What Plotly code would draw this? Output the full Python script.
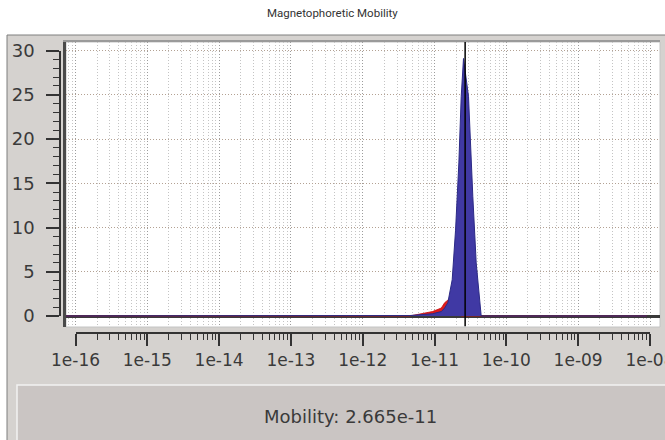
import plotly.graph_objects as go

# ---------------- data ----------------
mobility = [7.4e-17, 1.0e-12, 4.49e-12, 9.3e-12, 1.24e-11, 1.38e-11, 1.53e-11, 1.76e-11,
            1.96e-11, 2.18e-11, 2.35e-11, 2.53e-11, 2.97e-11, 3.41e-11, 3.80e-11, 4.46e-11, 9.0e-9]
blue_vals = [0, 0, 0.05, 0.25, 0.5, 0.9, 1.5, 4.1, 9.7, 17.3, 24.8, 29.1, 24.8, 13.5, 6.0, 0, 0]
red_vals = [0, 0, 0.0, 0.5, 0.9, 1.5, 1.8, 2.2, 2.0, 1.0, 0.0, 0, 0, 0, 0, 0, 0]
mean_mobility = 2.665e-11
x_tick_vals = [1e-16, 1e-15, 1e-14, 1e-13, 1e-12, 1e-11, 1e-10, 1e-09, 1e-08]
x_tick_text = ["1e-16", "1e-15", "1e-14", "1e-13", "1e-12", "1e-11", "1e-10", "1e-09", "1e-08"]
y_tick_vals = [0, 5, 10, 15, 20, 25, 30]
title_text = "Magnetophoretic Mobility"
readout_text = "Mobility: 2.665e-11"

# ---------------- geometry helpers ----------------
W, H = 665, 440
def fx(px):
    return px / W
def fy(py):
    return 1 - py / H

PX_DEC = (650 - 75.5) / 8.0
x_range = [-16 - (75.5 - 66) / PX_DEC, -16 + (660 - 75.5) / PX_DEC]
PX_UNIT = (316 - 50.5) / 30.0
y_range = [-(326.5 - 316) / PX_UNIT, 30 + (50.5 - 42) / PX_UNIT]

fig = go.Figure()

fig.add_trace(go.Scatter(x=mobility, y=red_vals, mode="lines", fill="tozeroy",
                         line=dict(color="#c81010", width=0.8), fillcolor="#e01a1a",
                         hoverinfo="skip", showlegend=False))
fig.add_trace(go.Scatter(x=mobility, y=blue_vals, mode="lines", fill="tozeroy",
                         line=dict(color="#2c2a86", width=1), fillcolor="#4039a4",
                         hoverinfo="skip", showlegend=False))
fig.add_trace(go.Scatter(x=[mean_mobility, mean_mobility], y=[y_range[0], y_range[1]], mode="lines",
                         line=dict(color="#000000", width=1.5), hoverinfo="skip", showlegend=False))
# dummy trace to create ruler axes
fig.add_trace(go.Scatter(x=[], y=[], xaxis="x2", yaxis="y2", showlegend=False))

grid_major = "#9c9c9c"
grid_minor = "#c4c4c4"

fig.update_layout(
    width=W, height=H,
    margin=dict(l=0, r=0, t=0, b=0, pad=0, autoexpand=False),
    paper_bgcolor="#ffffff",
    plot_bgcolor="rgba(0,0,0,0)",
    showlegend=False,
    xaxis=dict(type="log", domain=[fx(66), fx(660)], range=x_range, automargin=False,
               showticklabels=False, ticks="", side="top",
               showline=True, linecolor="#9a9a9a", linewidth=1.5,
               showgrid=True, gridcolor=grid_major, griddash="1px,2px", gridwidth=1,
               dtick=1,
               minor=dict(showgrid=True, gridcolor=grid_minor, griddash="1px,2px", dtick="D1", ticks=""),
               zeroline=False, fixedrange=True),
    yaxis=dict(domain=[fy(326.5), fy(42)], range=y_range, automargin=False,
               showticklabels=False, ticks="",
               showline=True, linecolor="#4a4a4a", linewidth=2.5,
               showgrid=True, gridcolor="#b3a193", griddash="1px,2px", gridwidth=1,
               dtick=5,
               zeroline=True, zerolinecolor="#3a3a3a", zerolinewidth=2.5, fixedrange=True),
    xaxis2=dict(type="log", domain=[fx(75.5), fx(650)], range=[-16, -7.999], automargin=False,
                anchor="free", position=fy(333), side="bottom",
                tickvals=x_tick_vals, ticktext=x_tick_text, ticklabeloverflow="allow",
                ticks="outside", ticklen=12, tickwidth=1.5, tickcolor="#333333",
                minor=dict(dtick="D1", ticks="outside", ticklen=6, tickwidth=1.2, tickcolor="#333333", showgrid=False),
                showline=True, linecolor="#333333", linewidth=1.5,
                showgrid=False, zeroline=False,
                tickfont=dict(family="DejaVu Sans", size=17, color="#3a3a3a"),
                fixedrange=True),
    yaxis2=dict(domain=[fy(316), fy(50.5)], range=[0, 30], automargin=False,
                anchor="free", position=fx(60), side="left",
                tickvals=y_tick_vals, ticklabelstandoff=8, ticklabeloverflow="allow",
                ticks="outside", ticklen=13, tickwidth=1.5, tickcolor="#333333",
                minor=dict(dtick=1, ticks="outside", ticklen=6, tickwidth=1.2, tickcolor="#333333", showgrid=False),
                showline=True, linecolor="#333333", linewidth=1.5,
                showgrid=False, zeroline=False,
                tickfont=dict(family="DejaVu Sans", size=18, color="#3a3a3a"),
                fixedrange=True),
    shapes=[
        dict(type="rect", xref="paper", yref="paper", x0=fx(7), x1=1.02, y0=-0.05, y1=fy(35),
             fillcolor="#d5d2cf", line=dict(color="#7e7e7e", width=1), layer="below"),
        dict(type="rect", xref="paper", yref="paper", x0=fx(66), x1=fx(660), y0=fy(327), y1=fy(42),
             fillcolor="#ffffff", line=dict(color="#c4c4c4", width=1), layer="below"),
        dict(type="rect", xref="paper", yref="paper", x0=fx(17), x1=1.03, y0=-0.05, y1=fy(385),
             fillcolor="#cac5c3", line=dict(color="#f2f2f2", width=1.5), layer="below"),
    ],
    annotations=[
        dict(text=title_text, xref="paper", yref="paper", x=0.5, y=fy(13), showarrow=False,
             xanchor="center", yanchor="middle",
             font=dict(family="Liberation Sans Narrow, Roboto", size=11.5, color="#333333")),
        dict(text=readout_text, xref="paper", yref="paper", x=fx(350), y=fy(416), showarrow=False,
             xanchor="center", yanchor="middle",
             font=dict(family="DejaVu Sans", size=18, color="#3a3a3a")),
    ],
)

fig.write_html("out.html")
